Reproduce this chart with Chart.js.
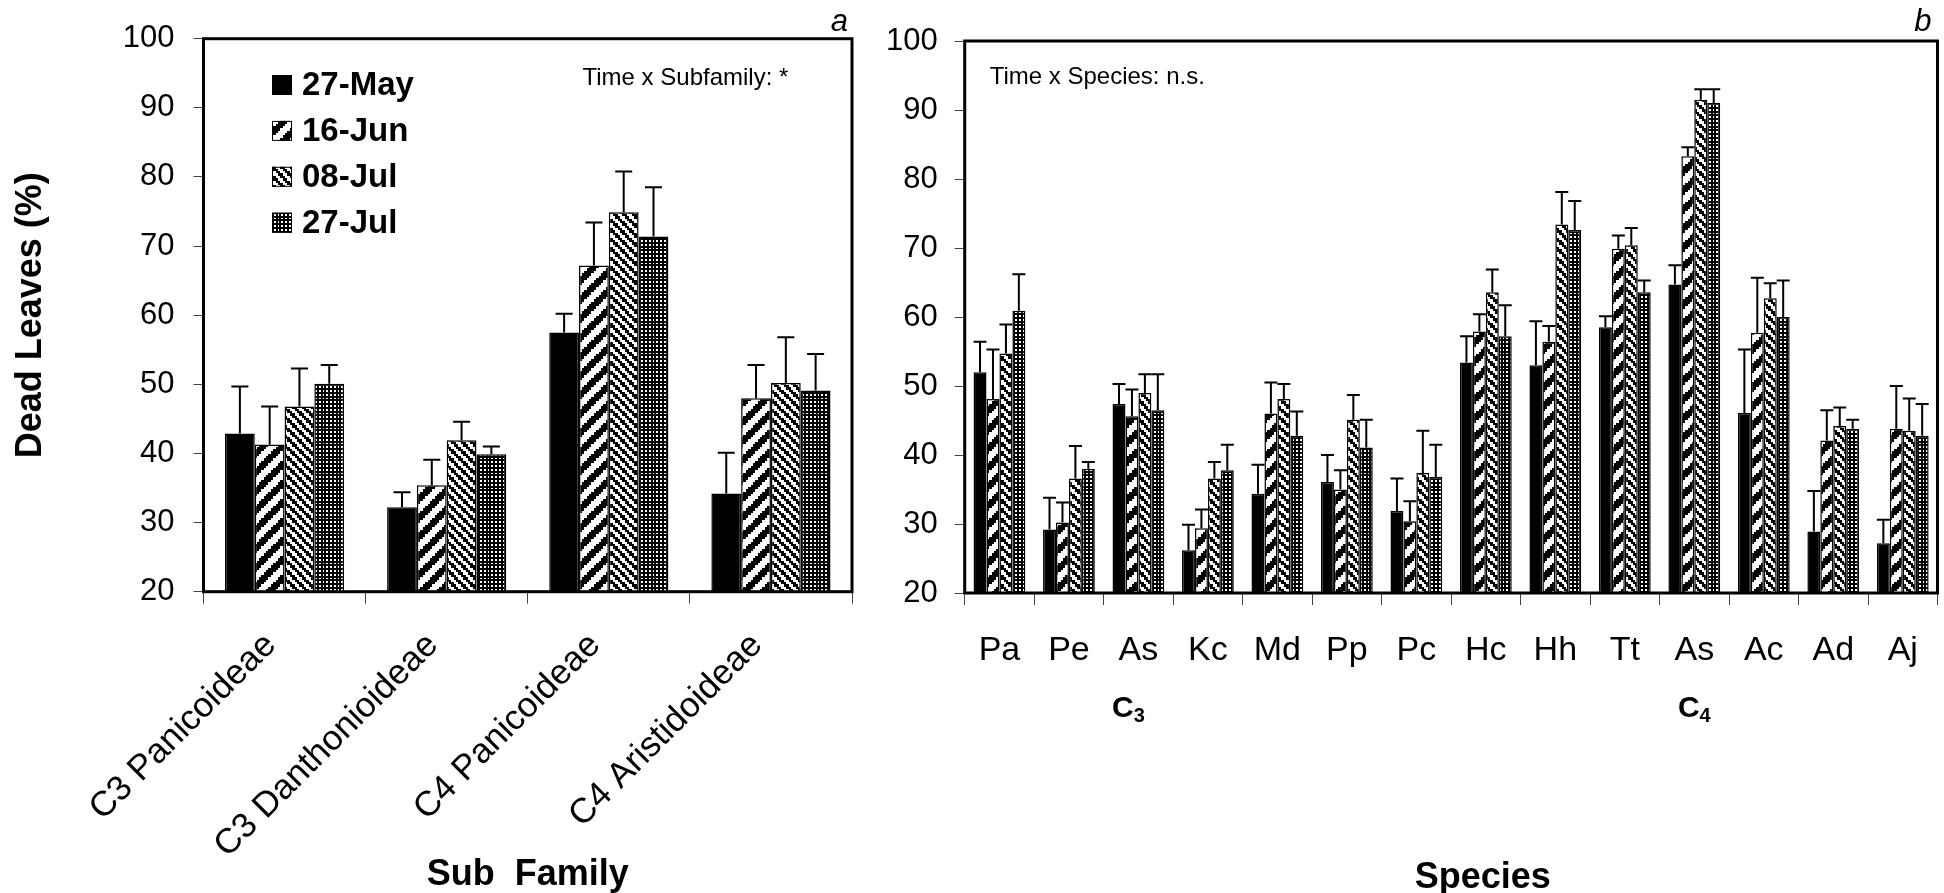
<!DOCTYPE html>
<html>
<head>
<meta charset="utf-8">
<script src="https://cdn.jsdelivr.net/npm/chart.js@4.4.1/dist/chart.umd.min.js"></script>
<style>
  html, body { margin: 0; padding: 0; background: #fff; overflow: hidden; }
  #wrap { position: relative; width: 1944px; height: 893px; overflow: hidden; }
  canvas { position: absolute; top: 0; }
  #subfamily { left: 0; }
  #species { left: 880px; }
</style>
</head>
<body>
<div id="wrap">
  <canvas id="subfamily" width="880" height="900"></canvas>
  <canvas id="species" width="1064" height="900"></canvas>
</div>
<script>
const FONT = "'Liberation Sans', Arial, sans-serif";

// sampling dates (one series per date)
const dates = ["27-May", "16-Jun", "08-Jul", "27-Jul"];

// panel a: sub families
const subfamilies = ["C3 Panicoideae", "C3 Danthonioideae", "C4 Panicoideae", "C4 Aristidoideae"];
const subMay = [42.9, 32.2, 57.5, 34.2];
const subJun16 = [41.3, 35.4, 67.2, 48.0];
const subJul08 = [46.8, 41.9, 74.9, 50.2];
const subJul27 = [50.1, 39.9, 71.4, 49.1];
const subMayErr = [6.8, 2.2, 2.7, 5.9];
const subJun16Err = [5.5, 3.7, 6.2, 4.8];
const subJul08Err = [5.5, 2.7, 5.9, 6.6];
const subJul27Err = [2.7, 1.1, 7.1, 5.3];

// panel b: species
const species = ["Pa", "Pe", "As", "Kc", "Md", "Pp", "Pc", "Hc", "Hh", "Tt", "As", "Ac", "Ad", "Aj"];
const spMay = [52.0, 29.2, 47.4, 26.2, 34.4, 36.1, 31.9, 53.4, 53.0, 58.5, 64.7, 46.1, 28.9, 27.2];
const spJun16 = [48.1, 30.2, 45.6, 29.4, 46.0, 35.0, 30.4, 57.9, 56.4, 69.9, 83.3, 57.7, 42.1, 43.8];
const spJul08 = [54.7, 36.6, 49.0, 36.6, 48.1, 45.1, 37.4, 63.6, 73.4, 70.4, 91.5, 62.7, 44.2, 43.5];
const spJul27 = [60.9, 38.0, 46.5, 37.8, 42.8, 41.1, 36.8, 57.2, 72.6, 63.6, 91.0, 60.0, 43.8, 42.8];
const spMayErr = [4.4, 4.6, 2.9, 3.7, 4.2, 3.9, 4.7, 3.8, 6.4, 1.6, 2.8, 9.2, 5.9, 3.4];
const spJun16Err = [7.2, 2.9, 3.9, 2.7, 4.5, 2.8, 2.9, 2.5, 2.3, 1.9, 1.3, 8.0, 4.4, 6.2];
const spJul08Err = [4.2, 4.7, 2.7, 2.4, 2.2, 3.6, 6.1, 3.3, 4.7, 2.5, 1.5, 2.2, 2.7, 4.7];
const spJul27Err = [5.3, 1.0, 5.2, 3.7, 3.5, 4.0, 4.7, 4.5, 4.2, 1.7, 2.0, 5.3, 1.3, 4.6];

// 8x8 bitmap fills, blown up without smoothing like the old office patterns
function bitPattern(isBlack, tile) {
  const small = document.createElement("canvas");
  small.width = 8; small.height = 8;
  const s = small.getContext("2d");
  const img = s.createImageData(8, 8);
  for (let y = 0; y < 8; y++) {
    for (let x = 0; x < 8; x++) {
      const v = isBlack(x, y) ? 0 : 255;
      const k = (y * 8 + x) * 4;
      img.data[k] = img.data[k + 1] = img.data[k + 2] = v;
      img.data[k + 3] = 255;
    }
  }
  s.putImageData(img, 0, 0);
  const big = document.createElement("canvas");
  big.width = tile; big.height = tile;
  const b = big.getContext("2d");
  b.imageSmoothingEnabled = false;
  b.drawImage(small, 0, 0, tile, tile);
  return b.createPattern(big, "repeat");
}

const fills = [
  "#000",
  bitPattern((x, y) => (x + y) % 8 < 4, 19),
  bitPattern((x, y) => ((x - y) % 4 + 4) % 4 < 2, 19),
  bitPattern((x, y) => !(x % 2 === 0 && y % 2 === 0), 15)
];

function makeSets(values, errors) {
  return values.map((data, i) => ({
    label: dates[i],
    data: data,
    errors: errors[i],
    backgroundColor: fills[i],
    borderColor: "#000",
    borderWidth: 1.5,
    barPercentage: 1
  }));
}

// frame round the plot area, then the one-sided error bars on top
const frameAndErrors = {
  id: "frameAndErrors",
  afterDatasetsDraw(chart, args, opts) {
    const { ctx, chartArea: a } = chart;
    const yScale = chart.scales.y;
    ctx.save();
    ctx.strokeStyle = "#000";
    ctx.lineWidth = 3;
    ctx.strokeRect(a.left, a.top, a.right - a.left, a.bottom - a.top);
    ctx.lineWidth = 2;
    chart.data.datasets.forEach((ds, i) => {
      chart.getDatasetMeta(i).data.forEach((bar, j) => {
        const top = yScale.getPixelForValue(ds.data[j] + ds.errors[j]);
        ctx.beginPath();
        ctx.moveTo(bar.x, bar.y);
        ctx.lineTo(bar.x, top);
        ctx.moveTo(bar.x - opts.cap / 2, top);
        ctx.lineTo(bar.x + opts.cap / 2, top);
        ctx.stroke();
      });
    });
    ctx.restore();
  }
};

// legend inside the plot area of panel a
const insideLegend = {
  id: "insideLegend",
  afterDraw(chart, args, opts) {
    if (!opts.show) return;
    const { ctx, chartArea: a } = chart;
    ctx.save();
    ctx.font = "bold 33px " + FONT;
    ctx.textBaseline = "middle";
    ctx.lineWidth = 1;
    chart.data.datasets.forEach((ds, i) => {
      const x = a.left + opts.left;
      const y = a.top + opts.top + i * opts.gap;
      ctx.fillStyle = ds.backgroundColor;
      ctx.fillRect(x, y - 10, 20, 20);
      ctx.strokeStyle = "#000";
      ctx.strokeRect(x + 0.5, y - 9.5, 19, 19);
      ctx.fillStyle = "#000";
      ctx.fillText(ds.label, x + 30, y + 1);
    });
    ctx.restore();
  }
};

// free text: panel letters, statistics notes, group labels
const notes = {
  id: "notes",
  afterDraw(chart, args, opts) {
    const { ctx } = chart;
    ctx.save();
    ctx.fillStyle = "#000";
    ctx.textBaseline = "alphabetic";
    (opts.items || []).forEach(t => {
      const p = t.at(chart);
      ctx.font = t.font + " " + FONT;
      ctx.textAlign = t.align || "left";
      if (t.sub) {
        const w1 = ctx.measureText(t.text).width;
        ctx.font = t.subFont + " " + FONT;
        const w2 = ctx.measureText(t.sub).width;
        const x0 = p.x - (w1 + w2) / 2;
        ctx.textAlign = "left";
        ctx.font = t.font + " " + FONT;
        ctx.fillText(t.text, x0, p.y);
        ctx.font = t.subFont + " " + FONT;
        ctx.fillText(t.sub, x0 + w1, p.y + 5);
      } else {
        ctx.fillText(t.text, p.x, p.y);
      }
    });
    ctx.restore();
  }
};

function baseOptions(o) {
  return {
    responsive: false,
    animation: false,
    devicePixelRatio: 1,
    layout: { padding: o.padding },
    datasets: { bar: { categoryPercentage: o.catPct, barPercentage: 1 } },
    plugins: {
      legend: { display: false },
      tooltip: { enabled: false },
      frameAndErrors: { cap: o.cap },
      insideLegend: o.legend,
      notes: { items: o.notes }
    },
    scales: {
      x: {
        type: "category",
        afterFit: s => { s.height = o.xHeight; },
        border: { display: false },
        grid: { offset: true, drawOnChartArea: false, drawTicks: true, tickLength: 12, color: "#444", lineWidth: 1 },
        ticks: {
          autoSkip: false,
          color: "#000",
          font: { size: o.xFont, family: FONT },
          padding: o.xPad,
          labelOffset: o.xShift,
          minRotation: o.rot,
          maxRotation: o.rot
        },
        title: o.xTitle
      },
      y: {
        min: 20,
        max: 100,
        afterFit: s => { s.width = o.yWidth; },
        border: { display: false },
        grid: { drawOnChartArea: false, drawTicks: true, tickLength: 10, color: "#444", lineWidth: 1 },
        ticks: { stepSize: 10, color: "#000", font: { size: 31, family: FONT }, padding: o.yPad },
        title: o.yTitle
      }
    }
  };
}

Chart.defaults.font.family = FONT;
Chart.defaults.color = "#000";

new Chart(document.getElementById("subfamily"), {
  type: "bar",
  data: {
    labels: subfamilies,
    datasets: makeSets([subMay, subJun16, subJul08, subJul27], [subMayErr, subJun16Err, subJul08Err, subJul27Err])
  },
  options: baseOptions({
    padding: { left: 0, right: 28, top: 38.7, bottom: 0 },
    catPct: 0.735,
    cap: 17,
    xHeight: 308.3,
    yWidth: 203.5,
    xFont: 35,
    xPad: 21,
    xShift: -14,
    yPad: 19,
    rot: 45,
    legend: { show: true, left: 68.5, top: 46.3, gap: 45.9 },
    notes: [
      { text: "a", font: "italic 31px", align: "right", at: c => ({ x: c.chartArea.right - 4, y: 31 }) },
      { text: "Time x Subfamily: *", font: "24px", at: c => ({ x: c.chartArea.left + 379, y: c.chartArea.top + 46 }) }
    ],
    xTitle: { display: true, text: "Sub  Family", color: "#000", font: { size: 36, weight: "bold", family: FONT }, padding: { top: 0, bottom: 3 } },
    yTitle: { display: true, text: "Dead Leaves (%)", color: "#000", font: { size: 36, weight: "bold", family: FONT }, padding: { top: 9, bottom: 0 } }
  }),
  plugins: [frameAndErrors, insideLegend, notes]
});

new Chart(document.getElementById("species"), {
  type: "bar",
  data: {
    labels: species,
    datasets: makeSets([spMay, spJun16, spJul08, spJul27], [spMayErr, spJun16Err, spJul08Err, spJul27Err])
  },
  options: baseOptions({
    padding: { left: 0, right: 6.5, top: 41, bottom: 0 },
    catPct: 0.745,
    cap: 13,
    xHeight: 307,
    yWidth: 84.7,
    xFont: 34,
    xPad: 25,
    xShift: 0,
    yPad: 17,
    rot: 0,
    legend: { show: false },
    notes: [
      { text: "b", font: "italic 31px", align: "right", at: c => ({ x: c.chartArea.right - 6, y: 31 }) },
      { text: "Time x Species: n.s.", font: "24px", at: c => ({ x: c.chartArea.left + 25, y: c.chartArea.top + 43 }) },
      { text: "C", sub: "3", font: "bold 30px", subFont: "bold 20px", at: c => ({ x: c.scales.x.getPixelForValue(2) - 10, y: 716.7 }) },
      { text: "C", sub: "4", font: "bold 30px", subFont: "bold 20px", at: c => ({ x: c.scales.x.getPixelForValue(10), y: 716.7 }) },
      { text: "Species", font: "bold 36px", align: "center", at: c => ({ x: c.scales.x.getPixelForValue(7) - 3, y: 888 }) }
    ],
    xTitle: { display: false },
    yTitle: { display: false }
  }),
  plugins: [frameAndErrors, insideLegend, notes]
});
</script>
</body>
</html>
